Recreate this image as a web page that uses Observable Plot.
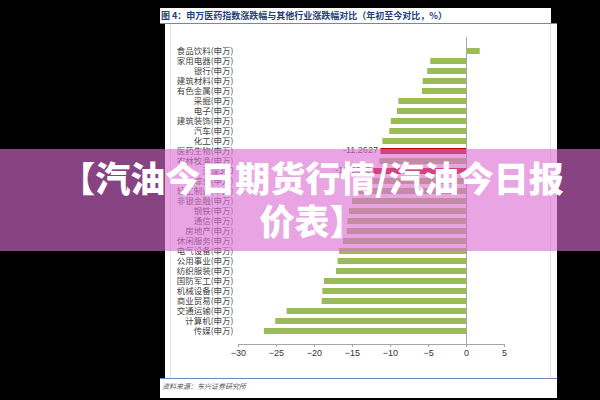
<!DOCTYPE html>
<html>
<head>
<meta charset="utf-8">
<script src="https://cdn.jsdelivr.net/npm/d3@7"></script>
<script src="https://cdn.jsdelivr.net/npm/@observablehq/plot@0.6"></script>
<style>
  html, body { margin:0; padding:0; background:#000; width:600px; height:400px; overflow:hidden; }
  .abs { position:absolute; }
  #titlebar { left:160px; top:8px; width:391px; height:15px; background:#fff; }
  #title { left:161px; top:8px; font:bold 9px 'Noto Sans CJK SC', sans-serif; color:#1F3E7A; line-height:15px; white-space:nowrap; }
  #line1 { left:160px; top:23px; width:397px; height:1px; background:#6D8BAE; }
  #body { left:165px; top:24px; width:392px; height:354px; background:#fff; }
  #inner { left:170px; top:24px; width:381px; height:354px; border-left:1px solid #e2e2e2; border-right:1px solid #e2e2e2; box-sizing:border-box; }
  #line2 { left:160px; top:378px; width:397px; height:1px; background:#6D8BAE; }
  #foot { left:160px; top:379px; width:397px; height:19px; background:#fff; }
  #source { left:162px; top:380px; font:italic 7px 'Noto Sans CJK SC', serif; color:#555; line-height:12px; white-space:nowrap; }
  #chart { left:0; top:0; }
  #banner { left:0; top:149px; width:600px; height:102px; background:rgba(220,110,210,0.62); }
  #banner-text { left:52px; top:149px; width:520px; height:102px; text-align:center; color:#fff;
     font:900 35px 'Noto Sans CJK SC', sans-serif; line-height:43px; padding-top:6px; box-sizing:border-box; }
</style>
</head>
<body>
<div class="abs" id="titlebar"></div>
<div class="abs" id="title">图 4：申万医药指数涨跌幅与其他行业涨跌幅对比（年初至今对比，%）</div>
<div class="abs" id="line1"></div>
<div class="abs" id="body"></div>
<div class="abs" id="inner"></div>
<div class="abs" id="line2"></div>
<div class="abs" id="foot"></div>
<div class="abs" id="source">资料来源：东兴证券研究所</div>
<div class="abs" id="chart"></div>
<div class="abs" id="banner"></div>
<div class="abs" id="banner-text">【汽油今日期货行情/汽油今日报价表】</div>
<script>
const categories = [
  "食品饮料(申万)","家用电器(申万)","银行(申万)","建筑材料(申万)","有色金属(申万)",
  "采掘(申万)","电子(申万)","建筑装饰(申万)","汽车(申万)","化工(申万)",
  "医药生物(申万)","农林牧渔(申万)","沪深300","综合(申万)","轻工制造(申万)",
  "非银金融(申万)","钢铁(申万)","通信(申万)","房地产(申万)","休闲服务(申万)",
  "电气设备(申万)","公用事业(申万)","纺织服装(申万)","国防军工(申万)","机械设备(申万)",
  "商业贸易(申万)","交通运输(申万)","计算机(申万)","传媒(申万)"
];
const values = [
  1.8, -4.7, -5.1, -5.7, -5.8,
  -8.9, -9.1, -9.9, -10.1, -11.0,
  -11.2627, -11.4, -12.2, -13.0, -14.4,
  -15.0, -15.4, -15.6, -15.7, -16.2,
  -16.7, -16.9, -17.1, -18.7, -18.9,
  -19.0, -23.6, -25.1, -26.6
];
const highlighted = ["医药生物(申万)", "沪深300"];
const xTicks = [-30, -25, -20, -15, -10, -5, 0, 5];

const data = categories.map((c, i) => ({category: c, value: values[i], hi: highlighted.includes(c)}));
const normal = data.filter(d => !d.hi);
const hi = data.filter(d => d.hi);

const chart = Plot.plot({
  width: 600, height: 400,
  marginLeft: 238, marginRight: 96, marginTop: 37, marginBottom: 56,
  x: {domain: [-30, 5], label: null},
  y: {domain: categories, padding: 0.4, label: null},
  style: {background: "transparent", fontFamily: "'Noto Sans CJK SC', sans-serif", fontSize: "8.5px", color: "#444"},
  marks: [
    Plot.barX(normal, {x: "value", y: "category", fill: "#9BBB59"}),
    Plot.barX(hi, {x: "value", y: "category", fill: "#C00000"}),
    Plot.ruleX([0], {stroke: "#a6a6a6"}),
    Plot.frame({anchor: "bottom", stroke: "#a6a6a6"}),
    Plot.axisY({tickSize: 0, tickPadding: 5, label: null, fill: "#444"}),
    Plot.axisX({ticks: xTicks, tickSize: 3, tickPadding: 2, label: null, stroke: "#a6a6a6", fill: "#333", fontFamily: "'Liberation Sans', Arial, sans-serif", fontSize: 9}),
    Plot.text(hi, {x: "value", y: "category", text: d => d.value.toFixed(4), textAnchor: "end", dx: -3, dy: -1, fill: "#444", fontFamily: "'Liberation Sans', Arial, sans-serif", fontSize: 9})
  ]
});
document.getElementById("chart").appendChild(chart);
</script>
</body>
</html>
